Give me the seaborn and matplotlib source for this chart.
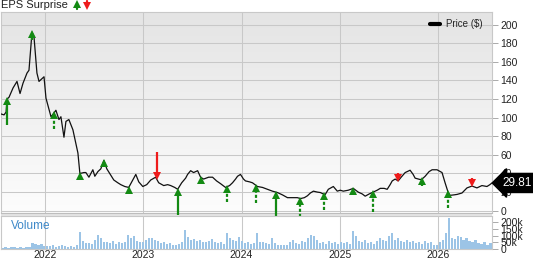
import numpy as np
import matplotlib
matplotlib.use("Agg")
import matplotlib.pyplot as plt
import seaborn as sns
from matplotlib.lines import Line2D
from matplotlib.colors import LinearSegmentedColormap
from matplotlib.patches import Rectangle

# ---------------- data ----------------
price_t = [2021.553, 2021.583, 2021.604, 2021.614, 2021.634, 2021.675, 2021.715, 2021.746,
           2021.776, 2021.817, 2021.837, 2021.868, 2021.888, 2021.918, 2021.939, 2021.969,
           2021.990, 2022.010, 2022.040, 2022.061, 2022.091, 2022.111, 2022.142, 2022.162,
           2022.193, 2022.213, 2022.243, 2022.284, 2022.335, 2022.355, 2022.396, 2022.416,
           2022.447, 2022.467, 2022.487, 2022.507, 2022.538, 2022.568, 2022.599, 2022.629,
           2022.670, 2022.700, 2022.741, 2022.771, 2022.812, 2022.852, 2022.883, 2022.924,
           2022.954, 2022.995, 2023.035, 2023.076, 2023.126, 2023.157, 2023.208, 2023.248,
           2023.279, 2023.320, 2023.350, 2023.391, 2023.431, 2023.451, 2023.482, 2023.512,
           2023.553, 2023.583, 2023.614, 2023.665, 2023.705, 2023.746, 2023.787, 2023.837,
           2023.878, 2023.908, 2023.939, 2023.959, 2023.989, 2024.020, 2024.040, 2024.081,
           2024.111, 2024.162, 2024.213, 2024.264, 2024.314, 2024.365, 2024.416, 2024.467,
           2024.517, 2024.568, 2024.599, 2024.639, 2024.670, 2024.700, 2024.731, 2024.771,
           2024.802, 2024.832, 2024.852, 2024.883, 2024.934, 2024.974, 2025.005, 2025.035,
           2025.086, 2025.137, 2025.187, 2025.228, 2025.258, 2025.299, 2025.340, 2025.380,
           2025.411, 2025.451, 2025.482, 2025.512, 2025.533, 2025.563, 2025.594, 2025.624,
           2025.665, 2025.715, 2025.746, 2025.766, 2025.817, 2025.837, 2025.868, 2025.908,
           2025.939, 2025.989, 2026.040, 2026.071, 2026.101, 2026.121, 2026.162, 2026.193,
           2026.243, 2026.294, 2026.345, 2026.395, 2026.446, 2026.497, 2026.527, 2026.548]
price = [104, 103, 106, 120, 122, 132, 139, 126,
         137, 148, 151, 192, 187, 148, 139, 142,
         144, 121, 109, 101, 105, 108, 98, 101,
         79, 96, 98, 87, 62, 40, 41, 41,
         36, 40, 44, 37, 42, 45, 54, 45,
         38, 33, 30, 28, 26, 25, 31, 39,
         31, 26, 28, 33, 36, 30, 27, 28,
         27, 25, 23, 30, 35, 39, 43, 41,
         43, 36, 34, 36, 36, 32, 29, 25,
         27, 30, 34, 37, 39, 34, 32, 31,
         30, 26, 25, 23, 21, 19.5, 17, 14,
         14, 14, 13, 14, 16, 19, 21, 20,
         19.5, 18, 17.5, 23, 26, 21, 22, 21,
         22, 24, 20, 18, 15.6, 18, 20, 22,
         24, 24, 23, 28, 32, 34, 32, 36,
         41, 43.5, 39, 35, 33.5, 34, 37, 42,
         44, 44, 41, 30, 20, 16.5, 17, 17.5,
         19, 24.5, 26.5, 24.5, 27, 26, 28, 29.81]

# EPS surprise markers
eps_t = [2021.614, 2021.868, 2022.091, 2022.355, 2022.599, 2022.852, 2023.137, 2023.350,
         2023.583, 2023.857, 2024.152, 2024.355, 2024.599, 2024.842, 2025.137, 2025.340,
         2025.594, 2025.837, 2026.101, 2026.345]
eps_len = [30, 10, 19, 8.6, 8.6, 7.5, 30, 30,
           8.6, 19, 20, 31, 21.4, 19.3, 9.6, 23.6,
           9.6, 9.6, 19.3, 9.6]
eps_beat = [True, True, True, True, True, True, False, True,
            True, True, True, True, True, True, True, True,
            False, True, True, False]
eps_dashed = [False, False, True, False, False, False, False, False,
              False, True, True, False, True, True, False, True,
              False, False, True, False]

# weekly-ish volume (thousands)
volume_k = [12, 18, 10, 14, 20, 12, 15, 10, 18, 14,
            45, 38, 30, 42, 25,
            22, 28, 35, 20, 25, 30, 22, 18, 26, 20, 30,
            124, 60, 45, 48, 40, 70, 105, 80, 55, 50,
            45, 60, 40, 50, 45, 55, 105, 80, 95, 60,
            50, 55, 65, 80, 85, 70, 60, 45, 50, 40,
            45, 35, 30, 40, 55, 140, 90, 70, 75, 60,
            65, 55, 50, 60, 75, 50, 45, 55, 40, 117,
            80, 70, 60, 90, 60, 45, 50, 40, 45, 121,
            55, 50, 45, 40, 80, 45, 35, 30, 35, 30,
            55, 70, 45, 40, 60, 50, 80, 105, 95, 70,
            45, 55, 40, 60, 45, 50, 40, 55, 45, 50,
            40, 135, 100, 60, 50, 65, 45, 55, 40, 60,
            85, 70, 60, 95, 117, 65, 80, 60, 55, 70,
            50, 60, 45, 55, 40, 60, 45, 50, 35, 30,
            50, 70, 117, 225, 80, 75, 100, 90, 70, 85,
            60, 50, 65, 45, 40, 50, 35, 45]
vol_start = 2021.568
vol_step = 0.03046
vol_t = [round(vol_start + vol_step * i, 4) for i in range(len(volume_k))]

year_ticks = [2022, 2023, 2024, 2025, 2026]
year_labels = ["2022", "2023", "2024", "2025", "2026"]
price_ticks = [0, 20, 40, 60, 80, 100, 120, 140, 160, 180, 200]
vol_ticks = [0, 50, 100, 150, 200]
vol_tick_labels = ["0", "50k", "100k", "150k", "200k"]
last_price = 29.81

# ---------------- style ----------------
sns.set_theme(style="white")
plt.rcParams['font.family'] = ['Liberation Sans', 'DejaVu Sans']

GRID = "#c8c8c8"
GREEN = "#138a13"
RED = "#ee1b1b"
XLIM = (2021.553, 2026.548)

fig = plt.figure(figsize=(5.33, 2.62), dpi=100)
fig.patch.set_facecolor("white")
ax = fig.add_axes([0.002, 0.187, 0.921, 0.767])
axv = fig.add_axes([0.002, 0.048, 0.921, 0.128])

# gradient background of the price panel
cmap = LinearSegmentedColormap.from_list("bg", ["#e4e4e4", "#fdfdfd"])
ax.imshow(np.linspace(0, 1, 256).reshape(-1, 1), cmap=cmap, extent=[0, 1, 0, 1],
          transform=ax.transAxes, aspect="auto", zorder=-2)

sns.lineplot(x=price_t, y=price, ax=ax, color="#111111", lw=0.9, zorder=3)

YLIM = (-2.5, 213.6)
ax.set_xlim(*XLIM)
ax.set_ylim(*YLIM)
ax.set_xticks(year_ticks)
ax.set_yticks(price_ticks)
ax.set_xticklabels([])
ax.yaxis.tick_right()
ax.tick_params(axis="x", length=0, labelbottom=False)
ax.tick_params(axis="y", length=4.5, width=0.7, color="#aaaaaa", labelsize=7.5,
               pad=1.5, labelcolor="#222222", right=True, left=False)
ax.grid(True, color=GRID, lw=0.75)
ax.set_axisbelow(True)
for s in ax.spines.values():
    s.set_color(GRID)
    s.set_linewidth(0.8)
ax.spines["bottom"].set_color("#bdbdbd")

# EPS arrows
px_per_unit = 0.767 * 262 / (YLIM[1] - YLIM[0])
head_ms = 6.0
head_half = (head_ms / 72 * 100) / 2 / px_per_unit
base_vals = np.interp(eps_t, price_t, price)
for t, L, beat, dashed, base in zip(eps_t, eps_len, eps_beat, eps_dashed, base_vals):
    col = GREEN if beat else RED
    ls = (0, (1.4, 0.9)) if dashed else "-"
    if beat:
        tip = base + 2.0
        tail = tip - L
        ax.plot([t, t], [tail, tip - head_half], color=col, lw=1.6, ls=ls,
                clip_on=False, zorder=4, solid_capstyle="butt")
        ax.plot([t], [tip - head_half], marker="^", ms=head_ms, color=col,
                clip_on=False, zorder=5, mew=0)
    else:
        tip = base - 1.0
        tail = tip + L
        ax.plot([t, t], [tail, tip + head_half], color=col, lw=1.6, ls=ls,
                clip_on=False, zorder=4, solid_capstyle="butt")
        ax.plot([t], [tip + head_half], marker="v", ms=head_ms, color=col,
                clip_on=False, zorder=5, mew=0)

# legend
ax.legend(handles=[Line2D([], [], color="black", lw=3)], labels=["Price ($)"],
          loc="upper right", bbox_to_anchor=(0.988, 0.985), frameon=False,
          fontsize=7, handlelength=1.0, handletextpad=0.6, borderaxespad=0)

# last price flag
ax.annotate(f"{last_price:.2f}", xy=(1.022, last_price), xycoords=ax.get_yaxis_transform(),
            ha="left", va="center", color="white", fontsize=8.5, annotation_clip=False,
            bbox=dict(boxstyle="larrow,pad=0.3", fc="black", ec="black"), zorder=10)

# ---------------- volume panel ----------------
sns.barplot(x=vol_t, y=volume_k, native_scale=True, ax=axv, color="#9cc4e6",
            saturation=1, width=0.7, errorbar=None, linewidth=0)
axv.set_facecolor("white")
axv.set_xlim(*XLIM)
axv.set_ylim(0, 241)
axv.set_xticks(year_ticks)
axv.set_xticklabels(year_labels)
axv.set_yticks(vol_ticks)
axv.set_yticklabels(vol_tick_labels)
axv.yaxis.tick_right()
axv.set_xlabel("")
axv.set_ylabel("")
axv.tick_params(axis="x", length=0, labelsize=7.5, pad=0.5, labelcolor="#222222")
axv.tick_params(axis="y", length=4.5, width=0.7, color="#aaaaaa", labelsize=7.5,
                pad=1.5, labelcolor="#222222", right=True, left=False)
axv.grid(True, axis="x", color=GRID, lw=0.75)
axv.grid(False, axis="y")
axv.set_axisbelow(True)
for s in axv.spines.values():
    s.set_color(GRID)
    s.set_linewidth(0.8)
axv.text(0.02, 0.70, "Volume", transform=axv.transAxes, color="#3d88c8",
         fontsize=8.5, ha="left", va="center")

# gray separator band between panels
fig.add_artist(Rectangle((0.002, 0.176), 0.921, 0.011, transform=fig.transFigure,
                         facecolor="#e4e4e4", edgecolor="none", zorder=-1))

# title with icons
fig.text(0.002, 0.982, "EPS Surprise", ha="left", va="center", fontsize=8, color="#222222")
fig_h = 262
fig_w = 533
for xp, up, col in [(77, True, GREEN), (87, False, RED)]:
    xf = xp / fig_w
    if up:
        fig.add_artist(Line2D([xf, xf], [1 - 9 / fig_h, 1 - 4 / fig_h], color=col, lw=1.6,
                              transform=fig.transFigure))
        fig.add_artist(Line2D([xf], [1 - 4.0 / fig_h], marker="^", ms=5.5, color=col, mew=0,
                              transform=fig.transFigure))
    else:
        fig.add_artist(Line2D([xf, xf], [1 - 1.0 / fig_h, 1 - 6 / fig_h], color=col, lw=1.6,
                              transform=fig.transFigure))
        fig.add_artist(Line2D([xf], [1 - 6.0 / fig_h], marker="v", ms=5.5, color=col, mew=0,
                              transform=fig.transFigure))

fig.savefig("out.png", dpi=100)
